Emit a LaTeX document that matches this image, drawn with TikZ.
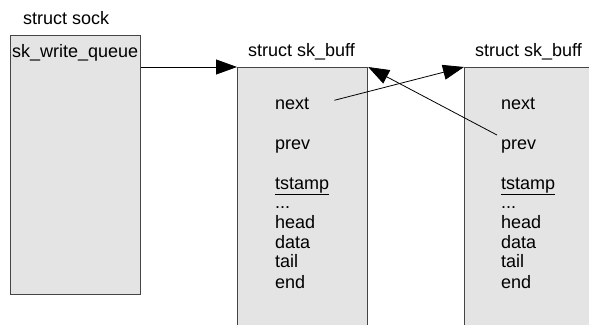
\documentclass[tikz,border=0pt]{standalone}
\usepackage{fontspec}
\setmainfont{Liberation Sans}
\usetikzlibrary{arrows.meta}
\definecolor{boxgray}{HTML}{E4E4E4}
\definecolor{linegray}{HTML}{454545}

\begin{document}
\begin{tikzpicture}[x=1pt,y=-1pt]
\tikzset{box/.style = {draw=linegray,fill=boxgray,line width=1.2pt,anchor=north west}}
\tikzset{label/.style = {anchor=base west,inner sep=0pt,font=\fontsize{18}{20}\selectfont}}
\tikzset{edge/.style = {-{Triangle[length=21pt,width=15pt]},line width=0.8pt}}
\useasboundingbox (0,0) rectangle (589,324);
\clip (0,0) rectangle (589,324);
% boxes
\node[box,minimum width=130pt,minimum height=259pt] (sock) at (10,35) {};
\node[box,minimum width=130pt,minimum height=300pt] (buffa) at (237,67) {};
\node[box,minimum width=200pt,minimum height=300pt] (buffb) at (464,67) {};
% titles
\node[label] (socktitle) at (23,24) {struct sock};
\node[label] (queue) at (12,57) {sk\_write\_queue};
\node[label] (titlea) at (248,56) {struct sk\_buff};
\node[label] (titleb) at (475,56) {struct sk\_buff};
% fields
\foreach \b/\x in {a/275,b/501} {
  \node[label] (next\b) at (\x,109) {next};
  \node[label] (prev\b) at (\x,149) {prev};
  \node[label] (tstamp\b) at (\x,189) {\underline{tstamp}};
  \node[label] (dots\b) at (\x,208) {...};
  \node[label] (head\b) at (\x,228) {head};
  \node[label] (data\b) at (\x,248) {data};
  \node[label] (tail\b) at (\x,267) {tail};
  \node[label] (end\b) at (\x,288) {end};
}
% links
\coordinate (nextptr) at ([shift={(25,-3)}]nexta.east);
\coordinate (prevptr) at ([shift={(-4,-11)}]prevb.west);
\draw[edge] (buffa.north west -| sock.east) -- (buffa.north west);
\draw[edge] (nextptr) -- (buffb.north west);
\draw[edge] (prevptr) -- (buffa.north east);
\end{tikzpicture}
\end{document}
